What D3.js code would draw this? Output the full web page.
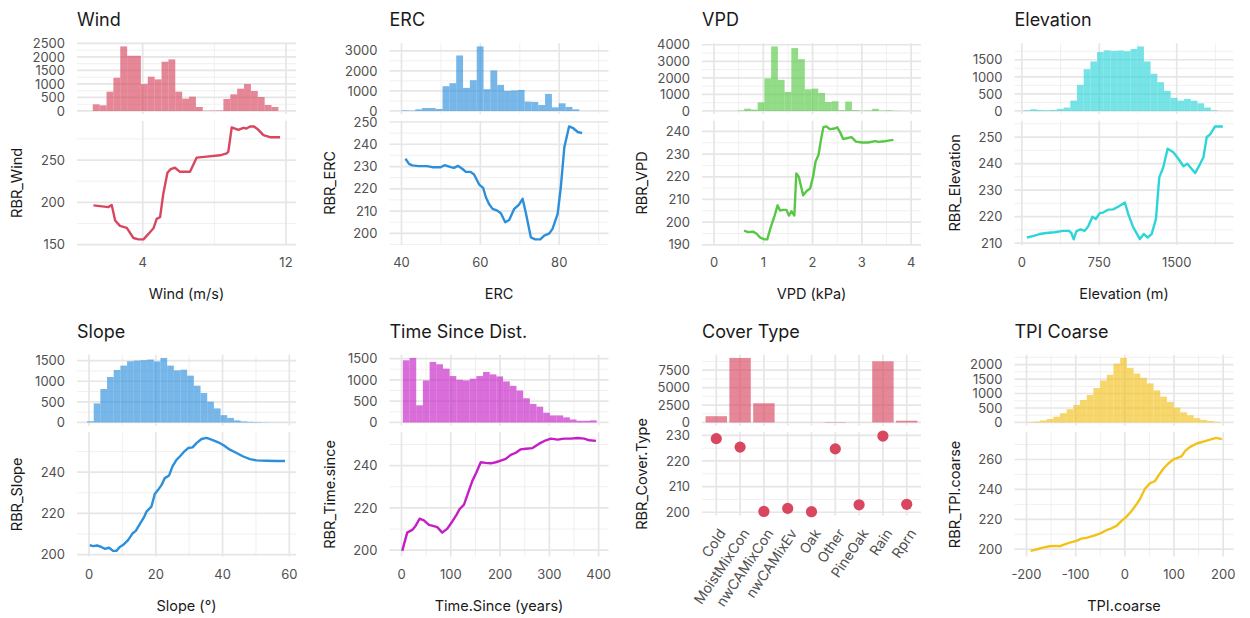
<!DOCTYPE html>
<html><head><meta charset="utf-8">
<script src="https://cdn.jsdelivr.net/npm/d3@7"></script>
<style>body{margin:0;background:#fff;} svg{display:block;}</style>
</head><body><svg id="c" width="1250" height="618"></svg>
<script>
// ---------------- DATA ----------------
// Wind
const windHistStart = 1.21, windHistWidth = 0.384;
const windHistCounts = [246,210,714,1231,2389,2044,2044,997,1268,1170,1823,1909,714,456,530,148,10,15,20,443,616,825,997,739,517,222,148];
const windX = [1.25,1.62,2.08,2.27,2.46,2.73,3.11,3.48,3.76,4.04,4.32,4.6,4.78,4.97,5.15,5.38,5.56,5.8,6.08,6.64,7.01,7.57,8.32,8.69,8.78,8.97,9.34,9.62,9.8,9.99,10.21,10.46,10.74,11.11,11.67];
const windRBR = [196.4,195.6,194.4,196.8,178.5,172.2,169.8,157.9,156.3,156.3,162.7,169.4,180.5,182.5,210.3,234.9,239.3,240.9,236.1,236.1,252.8,254,255.6,257.9,259.9,288.5,285.7,288.1,287.3,289.7,289.7,285.7,279.4,277,277];
const windXTicks = [4, 12], windHistTicks = [0,500,1000,1500,2000,2500], windYTicks = [150,200,250];

// ERC
const ercHistStart = 40.0, ercHistWidth = 1.734;
const ercHistCounts = [30,20,80,150,150,100,1233,1383,2767,1150,1533,3217,1083,2017,1300,1000,1020,1050,467,450,300,850,180,383,200,80];
const ercX = [41.0,41.9,42.7,44.4,46.5,47.8,49.9,50.9,52.5,53.3,54.3,55.4,56.3,57.5,58.4,59.7,60.7,61.4,62.2,63.1,64.3,65.2,66.3,67.3,68.6,69.8,70.7,71.5,72.8,73.9,75.2,76.2,77.5,78.3,79.6,80.4,81.3,82.5,83.4,84.7,85.8];
const ercRBR = [233.5,231.2,230.5,230.2,230.2,229.7,229.7,230.6,229.7,229.4,230.3,229.0,227.6,227.6,226.4,221.9,220.4,216.2,213.2,211.0,210.2,209.0,205.0,206.0,211.0,212.9,215.5,209.5,198.2,197.3,197.3,199.0,200.0,202.0,208.7,220.7,238.7,248.0,247.4,245.5,245.0];
const ercXTicks = [40,60,80], ercHistTicks = [0,1000,2000,3000], ercYTicks = [200,210,220,230,240,250];

// VPD
const vpdHistStart = 0.475, vpdHistWidth = 0.1367;
const vpdHistCounts = [30,140,80,525,1960,3900,1880,1150,3800,3130,1310,1350,1090,545,585,50,565,50,20,30,130,20,40,10];
const vpdX = [0.61,0.69,0.79,0.86,0.93,1.02,1.08,1.15,1.23,1.29,1.34,1.40,1.47,1.52,1.57,1.63,1.67,1.72,1.81,1.88,1.95,2.01,2.06,2.12,2.17,2.22,2.28,2.35,2.45,2.50,2.56,2.62,2.69,2.79,2.88,3.00,3.13,3.27,3.34,3.47,3.64];
const vpdRBR = [196.2,195.6,195.8,195.0,193.3,192.4,192.4,197.7,202.9,207.4,205.1,205.4,205.4,202.9,204.8,202.9,221.5,220.0,211.8,213.7,214.8,220.0,226.6,229.6,236.3,241.9,242.2,241.0,241.3,241.8,239.6,236.6,237.0,237.5,235.5,235.1,235.1,235.7,235.4,235.7,236.3];
const vpdXTicks = [0,1,2,3,4], vpdHistTicks = [0,1000,2000,3000,4000], vpdYTicks = [190,200,210,220,230,240];

// Elevation
const elevHistStart = 16, elevHistWidth = 64.8;
const elevHistCounts = [20,50,30,20,30,60,100,304,765,1225,1450,1725,1775,1760,1770,1750,1815,1890,1450,1090,845,590,382,304,353,300,225,100,20];
const elevX = [48.6,107,172,236,317,398,457,479,502,528,567,609,641,684,716,755,787,836,884,933,998,1030,1079,1144,1182,1218,1257,1299,1331,1370,1412,1467,1516,1565,1603,1678,1727,1759,1791,1824,1872,1947];
const elevRBR = [212.1,212.6,213.4,213.8,214.1,214.6,214.6,213.8,211.4,214.4,215.2,214.6,216.2,219.9,219.1,221.3,221.5,222.6,222.7,223.7,225.3,221.0,215.9,211.5,213.4,212.1,213.4,219.1,234.8,238.6,245.6,244.3,241.8,239.0,239.9,236.4,239.9,242.4,250.0,251.0,254.0,254.0];
const elevXTicks = [0,750,1500], elevHistTicks = [0,500,1000,1500], elevYTicks = [210,220,230,240,250];

// Slope
const slopeHistStart = -0.6, slopeHistWidth = 2.0;
const slopeHistCounts = [30,462,811,1103,1273,1379,1484,1500,1510,1525,1480,1565,1379,1265,1280,1135,892,714,503,341,178,110,50,25,15,10,5,3,2,2];
const slopeX = [0.2,1.2,2.4,3.7,4.7,6.0,7.2,8.2,9.2,10.4,11.7,13.0,14.0,15.2,16.4,17.2,18.7,19.7,20.7,21.7,22.7,24.0,25.0,26.2,27.2,28.4,29.7,31.0,32.2,33.7,35.2,36.7,38.7,40.2,42.2,44.2,46.2,48.2,50.2,53.2,56.2,58.7];
const slopeRBR = [204.6,204.1,204.4,203.7,202.8,203.3,201.8,201.8,203.7,204.9,207.0,210.2,211.5,214.8,217.9,220.8,223.3,229.4,231.4,233.7,237.1,238.4,242.8,246.0,247.6,249.8,251.7,252.0,254.1,256.1,256.6,255.8,254.5,253.2,250.9,249.3,247.6,246.3,245.7,245.5,245.4,245.4];
const slopeXTicks = [0,20,40,60], slopeHistTicks = [0,500,1000,1500], slopeYTicks = [200,220,240];

// Time since disturbance
const timeHistStart = 2.7, timeHistWidth = 13.56;
const timeHistCounts = [1460,1515,403,987,1421,1366,1263,1089,1002,987,1026,1089,1184,1129,1081,963,860,750,568,434,371,229,166,166,120,70,40,40,50];
const timeX = [1.4,11.5,21.7,28.5,36.6,45.4,55.6,63.7,72.5,82.7,92.9,103,111.2,118,126.8,135.6,143.7,151.9,160.7,170.8,181,191.2,201.4,211.5,221.7,231.9,242,252.2,265.8,279.3,292.9,303,316.6,330.2,343.7,357.3,370.8,381,394.6];
const timeRBR = [199.7,208.3,209.6,211.5,214.9,214.1,212.0,211.5,210.9,208.3,210.2,213.6,216.6,219.5,221.6,227.5,232.8,236.8,241.6,241.3,241.1,241.6,242.4,243.2,245.1,246.1,247.7,248.0,248.3,250.4,252.0,252.8,252.3,252.8,252.8,253.1,252.8,252.0,251.7];
const timeXTicks = [0,100,200,300,400], timeHistTicks = [0,500,1000,1500], timeYTicks = [200,220,240];

// Cover type
const coverCats = ["Cold","MoistMixCon","nwCAMixCon","nwCAMixEv","Oak","Other","PineOak","Rain","Rprn"];
const coverCounts = [900,9250,2750,12,8,60,10,8770,250];
const coverRBR = [228.7,225.4,200.3,201.5,200.2,224.7,202.9,229.7,203.1];
const coverHistTicks = [0,2500,5000,7500], coverYTicks = [200,210,220,230];

// TPI coarse
const tpiHistStart = -200, tpiHistWidth = 13.6;
const tpiHistCounts = [10,30,70,120,200,320,457,606,777,949,1189,1451,1646,2034,2229,1886,1691,1543,1349,1109,891,709,514,354,251,149,90,50,20];
const tpiX = [-191.8,-180.3,-166.7,-153.1,-142.9,-131.3,-122.4,-112.2,-98.6,-88.4,-78.2,-64.6,-51.0,-37.4,-27.2,-17,-6.8,3.4,13.6,23.8,32.0,40.8,51.0,61.2,70.1,78.2,88.4,98.6,108.8,115.6,122.4,132.7,146.3,159.9,173.5,185.7,197.3];
const tpiRBR = [198.9,199.8,201.1,202.0,202.2,202.0,203.3,204.4,205.6,207.1,207.6,208.9,210.4,212.7,214.0,215.6,218.9,221.8,225.6,230.0,234.4,240.4,244.0,245.6,250.0,253.8,257.3,260.0,261.3,262.2,265.6,268.4,270.7,272.0,273.3,274.4,273.6];
const tpiXTicks = [-200,-100,0,100,200], tpiHistTicks = [0,500,1000,1500,2000], tpiYTicks = [200,220,240,260];

// ---------------- PANEL CONFIG ----------------
const RED = "#D8475F", BLUE = "#2C8FDB", GREEN = "#58C746", CYAN = "#2DD5D9", MAG = "#C41EC4", YEL = "#F2C21B";
const panels = [
  {title:"Wind", xTitle:"Wind (m/s)", yTitle:"RBR_Wind", color:RED, xDomain:[0.33,12.56], hs:windHistStart, hw:windHistWidth, hc:windHistCounts, x:windX, y:windRBR, xt:windXTicks, ht:windHistTicks, yt:windYTicks},
  {title:"ERC", xTitle:"ERC", yTitle:"RBR_ERC", color:BLUE, xDomain:[36.95,92.5], hs:ercHistStart, hw:ercHistWidth, hc:ercHistCounts, x:ercX, y:ercRBR, xt:ercXTicks, ht:ercHistTicks, yt:ercYTicks},
  {title:"VPD", xTitle:"VPD (kPa)", yTitle:"RBR_VPD", color:GREEN, xDomain:[-0.244,4.2], hs:vpdHistStart, hw:vpdHistWidth, hc:vpdHistCounts, x:vpdX, y:vpdRBR, xt:vpdXTicks, ht:vpdHistTicks, yt:vpdYTicks},
  {title:"Elevation", xTitle:"Elevation (m)", yTitle:"RBR_Elevation", color:CYAN, xDomain:[-71,2050], hs:elevHistStart, hw:elevHistWidth, hc:elevHistCounts, x:elevX, y:elevRBR, xt:elevXTicks, ht:elevHistTicks, yt:elevYTicks},
  {title:"Slope", xTitle:"Slope (°)", yTitle:"RBR_Slope", color:BLUE, xDomain:[-3.6,62], hs:slopeHistStart, hw:slopeHistWidth, hc:slopeHistCounts, x:slopeX, y:slopeRBR, xt:slopeXTicks, ht:slopeHistTicks, yt:slopeYTicks},
  {title:"Time Since Dist.", xTitle:"Time.Since (years)", yTitle:"RBR_Time.since", color:MAG, xDomain:[-24.4,420], hs:timeHistStart, hw:timeHistWidth, hc:timeHistCounts, x:timeX, y:timeRBR, xt:timeXTicks, ht:timeHistTicks, yt:timeYTicks},
  {title:"Cover Type", xTitle:null, yTitle:"RBR_Cover.Type", color:RED, cats:coverCats, hc:coverCounts, y:coverRBR, ht:coverHistTicks, yt:coverYTicks},
  {title:"TPI Coarse", xTitle:"TPI.coarse", yTitle:"RBR_TPI.coarse", color:YEL, xDomain:[-224.5,221], hs:tpiHistStart, hw:tpiHistWidth, hc:tpiHistCounts, x:tpiX, y:tpiRBR, xt:tpiXTicks, ht:tpiHistTicks, yt:tpiYTicks}
];

// ---------------- DRAW ----------------
const svg = d3.select("#c");
const FONT = "Inter, 'Noto Sans', sans-serif";
const colW = 312.5, rowH = 311.5;
const GRID = "#E6E6E6", GRID_MINOR = "#EEEEEE", TICK = "#505050", INK = "#1a1a1a";
const TICK_SIZE = 13;

function minorsOf(ticks, domain) {
  const step = ticks[1] - ticks[0];
  const out = [];
  for (let v = ticks[0] - step / 2; v <= ticks[ticks.length - 1] + step; v += step) {
    if (v >= Math.min(...domain) && v <= Math.max(...domain)) out.push(v);
  }
  return out;
}

panels.forEach((p, i) => {
  const col = i % 4, row = Math.floor(i / 4);
  const cx = col * colW, oy = row * rowH;
  const x0 = cx + 77, x1 = cx + 296;
  const hTop = 43.2 + oy, hBot = 114.2 + oy;
  const lTop = 120.8 + oy, lBot = (p.cats ? 204 : 245) + oy;
  const g = svg.append("g").attr("font-family", FONT);

  // x scale
  let xs, vGridMajor, vGridMinor = [];
  if (p.cats) {
    xs = d3.scalePoint().domain(p.cats).range([x0, x1]).padding(0.6);
    vGridMajor = p.cats.map(c => xs(c));
  } else {
    xs = d3.scaleLinear().domain(p.xDomain).range([x0, x1]);
    vGridMajor = p.xt.map(v => xs(v));
    vGridMinor = minorsOf(p.xt, p.xDomain).map(v => xs(v));
  }

  // hist y scale
  const hmax = d3.max(p.hc);
  const hy = d3.scaleLinear().domain([-0.05 * hmax, 1.05 * hmax]).range([hBot, hTop]);
  // line y scale
  const [ymin, ymax] = d3.extent(p.y);
  const pad = (ymax - ymin) * 0.05;
  const ly = d3.scaleLinear().domain([ymin - pad, ymax + pad]).range([lBot, lTop]);

  function grid(yScale, ticks, top, bot, labelShift) {
    const gg = g.append("g");
    const dom = yScale.domain();
    minorsOf(ticks, dom).forEach(v => gg.append("line").attr("x1", x0).attr("x2", x1)
      .attr("y1", yScale(v)).attr("y2", yScale(v)).attr("stroke", GRID_MINOR).attr("stroke-width", 0.9));
    vGridMinor.forEach(x => gg.append("line").attr("x1", x).attr("x2", x)
      .attr("y1", top).attr("y2", bot).attr("stroke", GRID_MINOR).attr("stroke-width", 0.9));
    ticks.filter(v => v >= dom[0] && v <= dom[1]).forEach(v => gg.append("line").attr("x1", x0).attr("x2", x1)
      .attr("y1", yScale(v)).attr("y2", yScale(v)).attr("stroke", GRID).attr("stroke-width", 1.7));
    vGridMajor.forEach(x => gg.append("line").attr("x1", x).attr("x2", x)
      .attr("y1", top).attr("y2", bot).attr("stroke", GRID).attr("stroke-width", 1.7));
    ticks.filter(v => v >= dom[0] && v <= dom[1]).forEach(v => g.append("text")
      .attr("x", x0 - 12).attr("y", yScale(v)).attr("dy", "0.36em")
      .attr("text-anchor", "end").attr("font-size", TICK_SIZE).attr("fill", TICK).text(v));
  }

  // title
  g.append("text").attr("x", x0).attr("y", 26 + oy).attr("font-size", 18).attr("fill", INK).text(p.title);

  // histogram panel
  grid(hy, p.ht, hTop, hBot);
  if (p.cats) {
    const bw = xs.step() * 0.9;
    g.append("g").selectAll("rect").data(p.cats).join("rect")
      .attr("x", (c) => xs(c) - bw / 2).attr("width", bw)
      .attr("y", (c, k) => hy(p.hc[k])).attr("height", (c, k) => hy(0) - hy(p.hc[k]))
      .attr("fill", p.color).attr("fill-opacity", 0.65);
  } else {
    g.append("g").selectAll("rect").data(p.hc).join("rect")
      .attr("x", (d, k) => xs(p.hs + k * p.hw))
      .attr("width", (d, k) => xs(p.hs + (k + 1) * p.hw) - xs(p.hs + k * p.hw))
      .attr("y", d => hy(d)).attr("height", d => hy(0) - hy(d))
      .attr("fill", p.color).attr("fill-opacity", 0.65);
  }

  // line panel
  grid(ly, p.yt, lTop, lBot);
  if (p.cats) {
    g.append("g").selectAll("circle").data(p.cats).join("circle")
      .attr("cx", c => xs(c)).attr("cy", (c, k) => ly(p.y[k])).attr("r", 5.6)
      .attr("fill", p.color);
    p.cats.forEach(c => g.append("text")
      .attr("transform", `translate(${xs(c) + 6},${lBot + 15}) rotate(-56)`)
      .attr("text-anchor", "end").attr("dy", "0.35em")
      .attr("font-size", 14).attr("fill", TICK).text(c));
  } else {
    const line = d3.line().x((d, k) => xs(p.x[k])).y(d => ly(d));
    g.append("path").datum(p.y).attr("d", line).attr("fill", "none")
      .attr("stroke", p.color).attr("stroke-width", 2.4).attr("stroke-linejoin", "round");
    p.xt.forEach(v => g.append("text").attr("x", xs(v)).attr("y", lBot + 22)
      .attr("text-anchor", "middle").attr("font-size", TICK_SIZE).attr("fill", TICK).text(v));
    g.append("text").attr("x", (x0 + x1) / 2).attr("y", lBot + 54)
      .attr("text-anchor", "middle").attr("font-size", 14.5).attr("fill", INK).text(p.xTitle);
  }
  // y title
  g.append("text").attr("transform", `translate(${cx + 17},${(lTop + lBot) / 2}) rotate(-90)`)
    .attr("text-anchor", "middle").attr("dy", "0.35em").attr("font-size", 14.5).attr("fill", INK).text(p.yTitle);
});
</script>
</body></html>
